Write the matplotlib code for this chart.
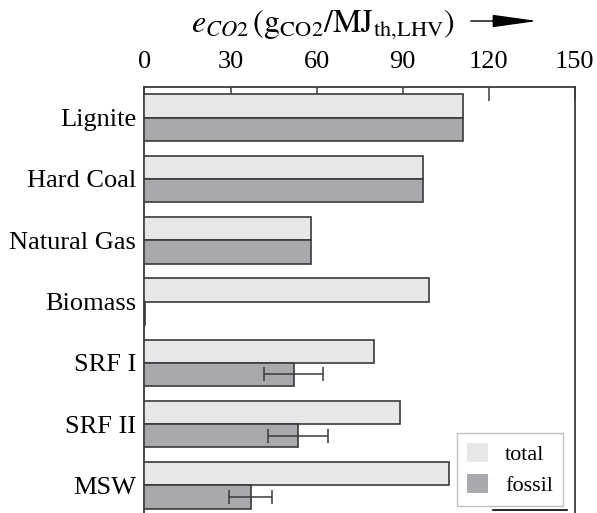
import matplotlib
matplotlib.use("Agg")
import matplotlib.pyplot as plt
import numpy as np
from matplotlib.lines import Line2D
from matplotlib.patches import FancyArrowPatch

plt.rcParams["font.family"] = ["Liberation Serif", "DejaVu Serif"]
plt.rcParams["mathtext.fontset"] = "stix"

fuels = ["Lignite", "Hard Coal", "Natural Gas", "Biomass", "SRF I", "SRF II", "MSW"]
total = [111, 97, 58, 99, 80, 89, 106]
fossil = [111, 97, 58, 0.3, 52, 53.5, 37]
fossil_err = [0, 0, 0, 0, 10.3, 10.6, 7.4]
xticks = [0, 30, 60, 90, 120, 150]

c_total = "#e6e7e8"
c_fossil = "#a8a9ac"
edge = "#3a3a3a"

fig = plt.figure(figsize=(5.97, 5.13), dpi=100)
ax = fig.add_axes([0.242, -0.006, 0.721, 0.8364])

y = np.arange(len(fuels))
h = 0.38
ax.barh(y - h / 2, total, height=h, color=c_total, edgecolor=edge, linewidth=1.2,
        zorder=3, label="total")
ax.barh(y + h / 2, fossil, height=h, color=c_fossil, edgecolor=edge, linewidth=1.2,
        zorder=3, label="fossil")
err = np.array(fossil_err)
mask = err > 0
ax.errorbar(np.array(fossil)[mask], (y + h / 2)[mask], xerr=err[mask], fmt="none",
            ecolor=edge, elinewidth=1.1, capsize=5, capthick=1.1, zorder=4)

ax.set_xlim(0, 150)
ax.set_ylim(len(fuels) - 0.5, -0.5)
ax.xaxis.tick_top()
ax.set_xticks(xticks)
ax.tick_params(axis="x", direction="in", length=10, width=1.1, color=edge,
               labelsize=19, pad=10)
ax.set_yticks(y)
ax.set_yticklabels(fuels)
ax.tick_params(axis="y", length=0, labelsize=19, pad=6)
for s in ax.spines.values():
    s.set_color(edge)
    s.set_linewidth(1.3)

leg = ax.legend(loc="lower right", bbox_to_anchor=(563 / 597, 1 - 506 / 513),
                bbox_transform=fig.transFigure, fontsize=16, frameon=True,
                fancybox=False, handlelength=0.95, handleheight=0.95,
                handletextpad=0.75, borderpad=0.45, labelspacing=0.4,
                borderaxespad=0)
leg.get_frame().set_edgecolor("#b0b0b0")
leg.get_frame().set_linewidth(1.0)
for p in leg.get_patches():
    p.set_edgecolor("none")

fig.text(0.541, 1 - 24 / 513,
         r"$e_{CO2}\,(\mathrm{g}_{\mathrm{CO2}}/\mathrm{MJ}_{\mathrm{th{,}LHV}})$",
         ha="center", va="center", fontsize=23)
fig.add_artist(FancyArrowPatch(
    (468 / 597, 1 - 21 / 513), (540 / 597, 1 - 21 / 513),
    transform=fig.transFigure, arrowstyle="-|>,head_length=2.0,head_width=0.28",
    mutation_scale=14, color="black", linewidth=1.0))
fig.add_artist(Line2D([493 / 597, 567 / 597], [1 - 510 / 513, 1 - 510 / 513],
                      transform=fig.transFigure, color="black", linewidth=1.2))

fig.savefig("out.png", dpi=100)
